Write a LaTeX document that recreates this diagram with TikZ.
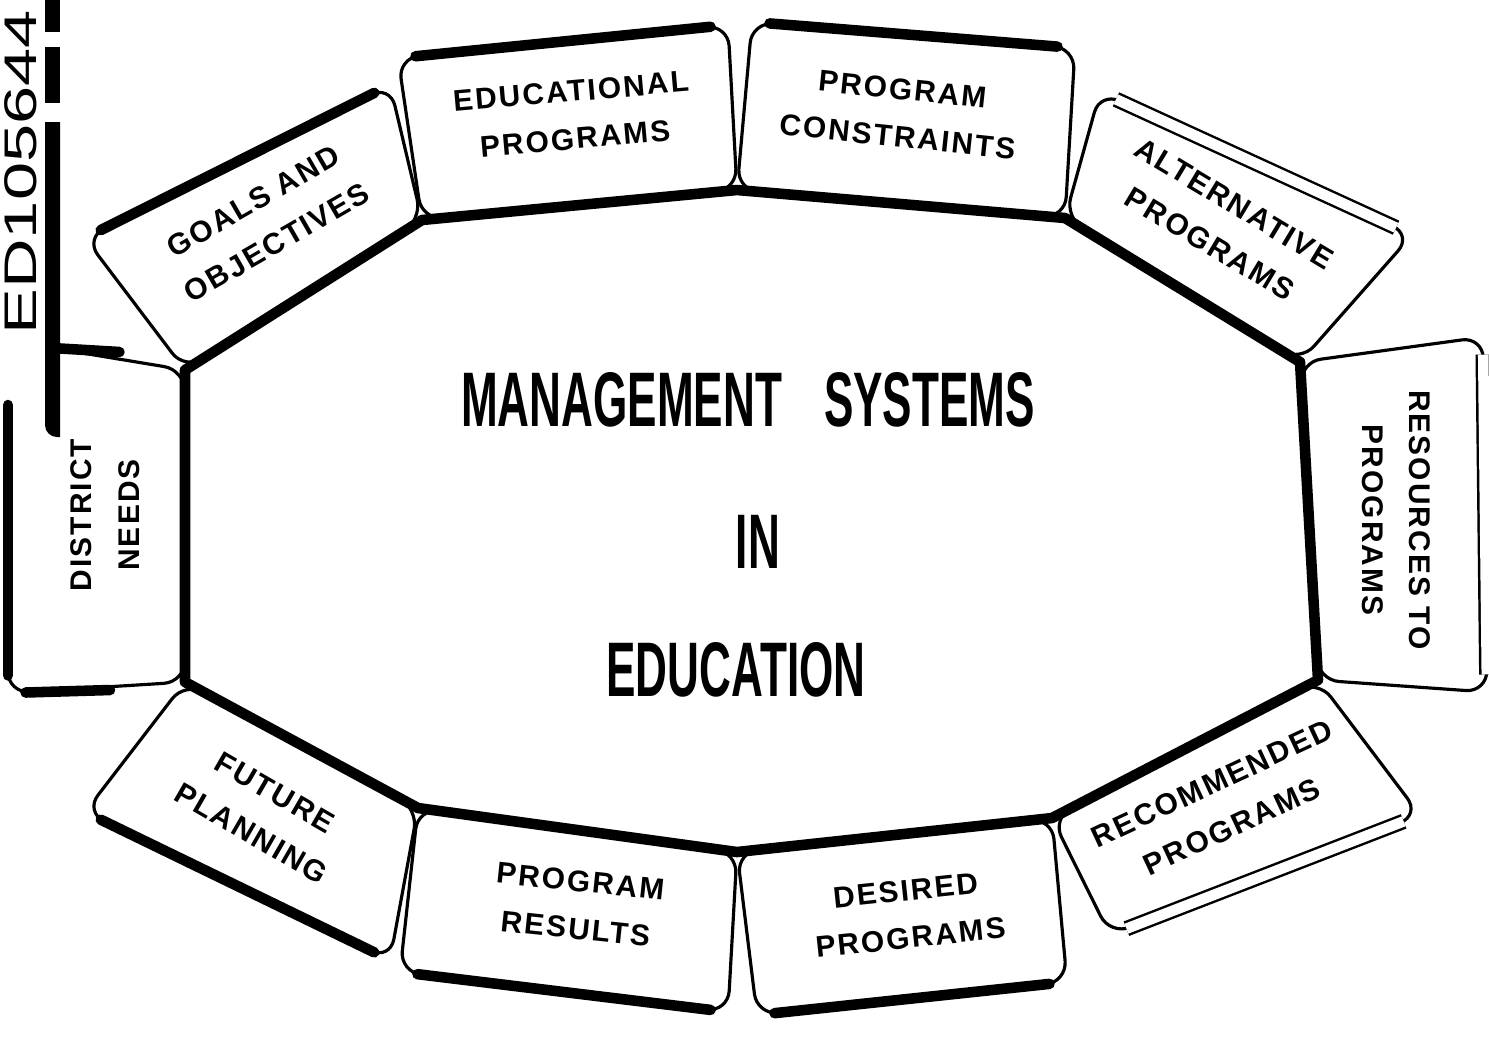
\documentclass[tikz,border=0pt]{standalone}
\usepackage{fontspec}
\setmainfont{Liberation Sans}
\newfontfamily\labelfont[LetterSpace=7]{Liberation Sans}
\newfontfamily\headfont[FakeStretch=0.57]{Liberation Sans}
\newfontfamily\fichefont[FakeStretch=1.5]{Liberation Sans}
\usetikzlibrary{positioning}

\begin{document}
\begin{tikzpicture}[x=0.01cm, y=-0.01cm,
      box/.style={draw=black, line width=0.9pt, rounded corners=6pt},
      rim/.style={draw=black, line width=3pt, line cap=round,
                  shorten <=5pt, shorten >=5pt},
      twin/.style={draw=black, line width=0.7pt, double=white,
                   double distance=3pt, shorten <=5pt, shorten >=5pt},
      lbl/.style={font=\labelfont\bfseries\fontsize{8.5}{13.5}\selectfont,
                  align=center, inner sep=0pt},
      head/.style={font=\headfont\bfseries\fontsize{22}{26}\selectfont,
                   inner sep=0pt},
    ]
    \useasboundingbox (0,0) rectangle (1489,1038);

    % junctions on the inside of the ring
    \coordinate (j1)  at (185,370);
    \coordinate (j2)  at (422,220);
    \coordinate (j3)  at (737,190);
    \coordinate (j4)  at (1065,218);
    \coordinate (j5)  at (1300,362);
    \coordinate (j6)  at (1318,680);
    \coordinate (j7)  at (1052,818);
    \coordinate (j8)  at (737,852);
    \coordinate (j9)  at (418,808);
    \coordinate (j10) at (185,682);

    % outer corners of the boxes
    \coordinate (goA) at (85,238);    \coordinate (goB) at (390,85);
    \coordinate (edA) at (398,58);    \coordinate (edB) at (728,25);
    \coordinate (pcA) at (752,22);    \coordinate (pcB) at (1075,48);
    \coordinate (apA) at (1100,92);   \coordinate (apB) at (1412,235);
    \coordinate (rpA) at (1483,337);  \coordinate (rpB) at (1487,692);
    \coordinate (reA) at (1420,815);  \coordinate (reB) at (1110,935);
    \coordinate (dpA) at (1067,982);  \coordinate (dpB) at (757,1015);
    \coordinate (prA) at (728,1012);  \coordinate (prB) at (400,972);
    \coordinate (fpA) at (390,960);   \coordinate (fpB) at (85,812);
    \coordinate (dnA) at (8,693);     \coordinate (dnB) at (52,348);

    % box outlines
    \draw[box] (j1) -- (goA) -- (goB) -- (j2) -- cycle;
    \draw[box] (j2) -- (edA) -- (edB) -- (j3) -- cycle;
    \draw[box] (j3) -- (pcA) -- (pcB) -- (j4) -- cycle;
    \draw[box] (j4) -- (apA) -- (apB) -- (j5) -- cycle;
    \draw[box] (j5) -- (rpA) -- (rpB) -- (j6) -- cycle;
    \draw[box] (j6) -- (reA) -- (reB) -- (j7) -- cycle;
    \draw[box] (j7) -- (dpA) -- (dpB) -- (j8) -- cycle;
    \draw[box] (j8) -- (prA) -- (prB) -- (j9) -- cycle;
    \draw[box] (j9) -- (fpA) -- (fpB) -- (j10) -- cycle;
    \draw[box] (8,402) -- (dnA) -- (j10) -- (j1) -- (dnB);

    % heavy outer edges
    \draw[rim] (goA) -- (goB);  \draw[rim] (edA) -- (edB);
    \draw[rim] (pcA) -- (pcB);  \draw[rim] (dpA) -- (dpB);
    \draw[rim] (prA) -- (prB);  \draw[rim] (fpA) -- (fpB);
    \draw[rim, shorten <=0pt] (8,405) -- (dnA);
    \draw[rim, shorten >=0pt] (dnA) -- (110,690);
    \draw[rim, shorten <=0pt] (dnB) -- (137,353);
    \draw[twin] (apA) -- (apB);  \draw[twin] (rpA) -- (rpB);
    \draw[twin] (reA) -- (reB);

    % heavy inner ring
    \draw[line width=3pt, line join=round]
      (j1) -- (j2) -- (j3) -- (j4) -- (j5) -- (j6) -- (j7) -- (j8)
      -- (j9) -- (j10) -- cycle;

    % box labels
    \node[lbl, rotate=90]  (dn) at (105,515)  {DISTRICT\\NEEDS};
    \node[lbl, rotate=30]  (go) at (265,222)  {GOALS AND\\OBJECTIVES};
    \node[lbl, rotate=5]   (ed) at (573,115)  {EDUCATIONAL\\PROGRAMS};
    \node[lbl, rotate=-6]  (pc) at (900,113)  {PROGRAM\\CONSTRAINTS};
    \node[lbl, rotate=-31] (ap) at (1222,224) {ALTERNATIVE\\PROGRAMS};
    \node[lbl, rotate=-90] (rp) at (1396,520) {RESOURCES TO\\PROGRAMS};
    \node[lbl, rotate=25]  (re) at (1222,805) {RECOMMENDED\\PROGRAMS};
    \node[lbl, rotate=6]   (dp) at (908,914)  {DESIRED\\PROGRAMS};
    \node[lbl, rotate=-6]  (pr) at (578,905)  {PROGRAM\\RESULTS};
    \node[lbl, rotate=-30] (fp) at (263,813)  {FUTURE\\PLANNING};

    % title in the middle
    \node[head] (title) at (748,400) {MANAGEMENT\hspace{12pt}SYSTEMS};
    \node[head] (in)    at (758,542) {IN};
    \node[head] (edu)   at (736,670) {EDUCATION};

    % fiche number and bar on the left margin
    \fill (45,0) rectangle (60,32);
    \fill (45,47) rectangle (60,103);
    \fill (45,122) -- (45,425) arc[start angle=180, end angle=270, radius=0.12cm]
      -- (60,437) -- (60,122) -- cycle;
    \node[font=\fichefont\fontsize{13}{13}\selectfont, rotate=90,
          anchor=base west, inner sep=0pt] (fiche) at (37,335) {ED105644};

  \end{tikzpicture}
\end{document}
